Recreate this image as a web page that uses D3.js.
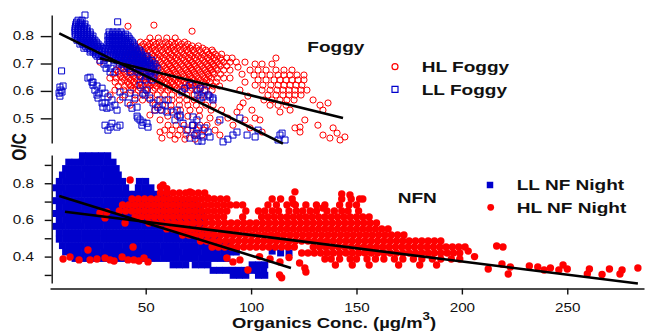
<!DOCTYPE html>
<html>
<head>
<meta charset="utf-8">
<script src="https://cdn.jsdelivr.net/npm/d3@7"></script>
<style>
  html, body { margin: 0; padding: 0; background: #fff; }
  svg { display: block; }
  text { font-family: "Liberation Sans", Arial, Helvetica, sans-serif; fill: #111; }
</style>
</head>
<body>
<svg id="chart" width="650" height="332"></svg>
<script>
// ---------------- data ----------------
const xTicks = [50, 100, 150, 200, 250];
const topYTicks = [0.5, 0.6, 0.7, 0.8];
const bottomYTicks = [0.3, 0.4, 0.5, 0.6, 0.7, 0.8, 0.9];
const bottomYLabels = [0.4, 0.6, 0.8];

// HL Foggy (open circles): rows of [O/C, [organics...]] plus loose points
const hlFoggyRows = [
  [0.793, [52, 56, 60, 64]],
  [0.778, [47.5, 50.5, 53.5, 56.5, 59.5, 62.5, 65.5, 68.5]],
  [0.771, [49, 52, 55, 58, 61, 64, 67, 70]],
  [0.764, [45, 48, 51, 54, 57, 60, 63, 66, 69, 72, 75]],
  [0.756, [44, 47, 50, 53, 56, 59, 62, 65, 68, 71, 74, 77]],
  [0.749, [42.5, 45.5, 48.5, 51.5, 54.5, 57.5, 60.5, 63.5, 66.5, 69.5, 72.5, 75.5, 78.5, 81.5]],
  [0.742, [43, 46, 49, 52, 55, 58, 61, 64, 67, 70, 73, 76, 79, 82]],
  [0.734, [41, 44, 47, 50, 53, 56, 59, 62, 65, 68, 71, 74, 77, 80, 83, 86]],
  [0.727, [42, 45, 48, 51, 54, 57, 60, 63, 66, 69, 72, 75, 78, 81, 84]],
  [0.72, [40.5, 43.5, 46.5, 49.5, 52.5, 55.5, 58.5, 61.5, 64.5, 67.5, 70.5, 73.5, 76.5, 79.5, 82.5, 85.5, 88.5, 91]],
  [0.712, [41, 44, 47, 50, 53, 56, 59, 62, 65, 68, 71, 74, 77, 80, 83, 86]],
  [0.705, [39, 42, 45, 48, 51, 54, 57, 60, 63, 66, 69, 72, 75, 78, 81, 84, 87, 90, 93]],
  [0.698, [40, 43, 46, 49, 52, 55, 58, 61, 64, 67, 70, 73, 76, 79, 82, 85]],
  [0.691, [37.5, 40.5, 43.5, 46.5, 49.5, 52.5, 55.5, 58.5, 61.5, 64.5, 67.5, 70.5, 73.5, 76.5, 79.5, 82.5, 85.5, 88.5]],
  [0.683, [38.5, 41.5, 44.5, 47.5, 50.5, 53.5, 56.5, 59.5, 62.5, 65.5, 68.5, 71.5, 74.5, 77.5, 80.5, 83.5]],
  [0.676, [36, 39, 42, 45, 48, 51, 54, 57, 60, 63, 66, 69, 72, 75, 78, 81, 84, 87, 90]],
  [0.669, [37, 40, 43, 46, 49, 52, 55, 58, 61, 64, 67, 70, 73, 76, 79, 82]],
  [0.661, [34.5, 37.5, 40.5, 43.5, 46.5, 49.5, 52.5, 55.5, 58.5, 61.5, 64.5, 67.5, 70.5, 73.5, 76.5, 79.5, 82.5, 85.5]],
  [0.654, [38, 41, 44, 47, 50, 53, 56, 59, 62, 65, 68, 71, 74, 77, 80]],
  [0.647, [33, 36, 39, 42, 45, 48, 51, 54, 57, 60, 63, 66, 69, 72, 75, 78, 81, 84, 87, 90]],
  [0.640, [40, 43, 46, 49, 52, 55, 58, 61, 64, 67, 70, 73, 76, 79]],
  [0.632, [35.5, 38.5, 41.5, 44.5, 47.5, 50.5, 53.5, 56.5, 59.5, 62.5, 65.5, 68.5, 71.5, 74.5, 77.5, 80.5, 83.5]],
  [0.625, [42, 45, 48, 51, 54, 57, 60, 63, 66, 69, 72, 75, 78]],
  [0.618, [37, 40, 43, 46, 49, 52, 55, 58, 61, 64, 67, 70, 73, 76, 79, 82, 85]],
  [0.61, [44, 47.5, 51, 54.5, 58, 61.5, 65, 68.5, 72, 76]],
  [0.603, [39.5, 43, 46.5, 50, 53.5, 57, 60.5, 64, 67.5, 71, 74.5, 78, 81.5]],
  [0.585, [45, 48.5, 52, 55.5, 59, 62.5, 66, 69.5, 73, 76.5, 80]],
  [0.567, [48.5, 52, 55.5, 59, 62.5, 66, 69.5, 73, 76.5]],
  [0.548, [54.5, 58, 62, 66, 70, 74, 78.5, 82]],
  [0.53, [57, 62, 66.5, 71, 75.5, 81, 86]],
  [0.508, [60.5, 65, 70, 75.5]],
  [0.475, [60.6, 64.4, 68.2, 72, 75.8, 79.1]],
  [0.457, [59, 62.5, 66.3, 70, 74, 77.7]],
  [0.439, [61.5, 65.3, 69.1, 72.9, 76.7]],
  [0.424, [63.9, 68.6, 73.4]],
  [0.698, [101.9, 105.2, 109.9]],
  [0.676, [99.5, 103.3, 107.1, 111.8, 115.6, 119.4]],
  [0.658, [101.4, 105.2, 109, 112.8, 115.6, 118.5, 121.8, 125.1]],
  [0.640, [103.3, 107.1, 110.9, 113.7, 116.6, 119.4, 122.3, 125.1]],
  [0.621, [101.9, 105.6, 109.4, 112.8, 115.6, 118.5, 121.3, 124.1]],
  [0.603, [105.2, 109, 112.3, 115.1, 118, 120.8, 123.7, 126.5]],
  [0.585, [108, 111.8, 115.1, 118, 120.8, 123.7]],
  [0.567, [106.1, 109.9, 113.7, 117, 120.4]],
  [0.548, [109, 112.8, 116.6]]
];
const hlFoggyPts = [
  [129.4, 0.567], [132.7, 0.548], [136.5, 0.556], [134.1, 0.53], [138.9, 0.465], [134.1, 0.439],
  [137.4, 0.428], [142.2, 0.421], [144.5, 0.432], [140.8, 0.446], [123.2, 0.468], [120.8, 0.465],
  [123.2, 0.45], [131.7, 0.475], [111.8, 0.72], [72, 0.818], [53.9, 0.84], [41.6, 0.836],
  [97.1, 0.705], [93.8, 0.687], [95.7, 0.661], [97.1, 0.632], [94.7, 0.603], [98.5, 0.581],
  [96.2, 0.556], [100.4, 0.53], [93.3, 0.523], [101.9, 0.501], [97.1, 0.494], [104.2, 0.494],
  [99.5, 0.465], [105.2, 0.45], [94.7, 0.541], [91.4, 0.475], [89, 0.501], [84.3, 0.486],
  [80.5, 0.501], [30.7, 0.72], [28.3, 0.705], [32.1, 0.731], [35.4, 0.603], [33.1, 0.585],
  [37.8, 0.567], [40.2, 0.585], [42.6, 0.548], [44.9, 0.567], [52, 0.512], [54.4, 0.53],
  [56.8, 0.494], [82.9, 0.457], [85.2, 0.439], [56.8, 0.45], [57.7, 0.428], [125.5, 0.494],
  [118.5, 0.53], [113.7, 0.523]
];

// LL Foggy (open squares)
const llFoggyRows = [
  [0.858, [17.9, 19.8]],
  [0.851, [17.2, 19.1]],
  [0.844, [16.9, 18.4, 19.8, 21.2]],
  [0.836, [16.7, 18.1, 19.6, 21]],
  [0.829, [16.5, 17.9, 19.3, 20.7, 22.2]],
  [0.822, [16.5, 17.9, 19.3, 20.7, 22]],
  [0.815, [16.5, 17.9, 19.3, 20.7, 22.2, 23.6, 32.6, 34.5, 36.4, 38.3]],
  [0.807, [16.8, 18.2, 19.6, 21, 22.5, 23.9, 32.8, 34.2, 35.7, 37.1, 38.6, 40.5]],
  [0.80, [16.5, 17.9, 19.3, 20.7, 22.2, 23.6, 25, 32.1, 33.5, 35, 36.4, 37.8, 39.7, 41.6]],
  [0.792, [17.6, 19, 20.4, 21.8, 23.3, 24.7, 32.8, 34.2, 35.7, 37.1, 38.6, 40.4, 42.2]],
  [0.785, [17.4, 18.8, 20.2, 21.7, 23.1, 24.5, 25.9, 32.1, 33.5, 35, 36.4, 37.8, 39.2, 41.1, 43]],
  [0.778, [19.5, 20.9, 22.4, 23.8, 25.2, 26.6, 32.8, 34.2, 35.7, 37.1, 38.6, 40, 41.9, 43.7]],
  [0.771, [18.8, 20.2, 21.7, 23.1, 24.5, 25.9, 27.4, 32.1, 33.5, 35, 36.4, 37.8, 39.2, 40.7, 42.6, 44.4]],
  [0.763, [21.4, 22.9, 24.3, 25.7, 27.1, 28.5, 32.8, 34.2, 35.7, 37.1, 38.6, 40, 41.4, 42.8, 44.6]],
  [0.756, [20.7, 22.2, 23.6, 25, 26.4, 27.8, 29.3, 30.7, 32.1, 33.5, 35, 36.4, 37.8, 39.2, 40.7, 42.1, 43.5, 45.4]],
  [0.749, [23.9, 25.3, 26.7, 28.1, 29.5, 33.8, 35.2, 36.6, 38, 39.5, 40.9, 42.3, 43.7, 45.4, 47]],
  [0.742, [23.6, 25, 26.4, 27.8, 29.3, 30.7, 33.1, 34.5, 35.9, 37.3, 38.8, 40.2, 41.6, 43, 44.4, 45.9, 47.8]],
  [0.734, [26.2, 27.6, 29, 30.4, 34.7, 36.2, 37.6, 39, 40.4, 41.9, 43.3, 44.7, 46.1, 47.8]],
  [0.727, [26.9, 28.3, 29.7, 31.2, 34, 35.4, 36.9, 38.3, 39.7, 41.1, 42.6, 44, 45.4, 46.8, 48.7, 50.6]],
  [0.72, [35.7, 37.1, 38.5, 40, 41.4, 42.8, 44.2, 45.6, 47, 48.5, 50.2]],
  [0.712, [28.3, 30.2, 35, 36.4, 37.8, 39.2, 40.7, 42.1, 43.5, 44.9, 46.3, 47.8, 49.2, 51.1, 53]],
  [0.705, [37.6, 39.5, 41.6, 43.5, 45.4, 47, 48.5, 50, 51.8]],
  [0.698, [30.2, 32.1, 36.9, 38.8, 40.7, 42.6, 44.4, 46.3, 47.8, 49.2, 50.6, 52.5, 54.4]],
  [0.69, [41.2, 44, 46.8, 48.2, 50, 52, 53.8]],
  [0.683, [31.2, 33.5, 39.7, 42.6, 45.4, 47.3, 49.2, 51.1, 53, 55.4]],
  [0.669, [33.1, 35.4, 42.6, 46.3, 48.7, 50.6, 52.5, 54.4]],
  [0.654, [47.3, 50.1, 52, 53.9]],
  [0.640, [49.7, 53]]
];
const llFoggyPts = [
  [21.2, 0.877], [36.7, 0.852],
  [23.6, 0.65], [24.5, 0.632], [25, 0.621], [25.9, 0.603], [26.9, 0.585], [27.4, 0.574],
  [29.3, 0.556], [29.7, 0.541], [31.6, 0.537], [22.6, 0.647], [25, 0.632], [26.9, 0.618], [27.8, 0.592],
  [29.3, 0.61], [30.7, 0.592], [32.1, 0.578], [34, 0.567], [35.4, 0.548], [33.1, 0.541], [36.4, 0.53], [30.7, 0.556],
  [37.8, 0.596], [39.2, 0.578], [41.6, 0.556], [43.5, 0.537], [45.9, 0.541], [44.9, 0.574], [42.6, 0.592],
  [47.3, 0.621], [50.6, 0.603], [52, 0.574], [53.5, 0.556], [55.8, 0.541], [57.7, 0.53], [60.1, 0.523],
  [59.2, 0.548], [54.4, 0.53], [48.7, 0.592], [49.7, 0.585], [56.8, 0.567], [60.6, 0.567],
  [30.7, 0.475], [33.1, 0.468], [34, 0.482], [36.4, 0.468], [37.8, 0.475], [32.1, 0.457],
  [45.9, 0.508], [47.3, 0.494], [48.7, 0.486], [50.6, 0.482], [51.1, 0.468], [48.2, 0.475], [46.3, 0.501],
  [10.1, 0.673], [9.3, 0.614], [9.8, 0.603], [8.9, 0.592], [10.3, 0.596], [9.3, 0.581], [10.8, 0.618],
  [64.9, 0.53], [66.3, 0.505], [67.7, 0.482], [63.9, 0.494], [69.6, 0.457], [72.4, 0.475], [74.3, 0.446],
  [71, 0.428], [74.8, 0.417], [74.3, 0.603], [74.8, 0.585], [75.8, 0.61], [78.1, 0.603], [79.6, 0.585],
  [81.9, 0.574], [77.2, 0.578], [80.5, 0.578], [81.9, 0.567], [75.8, 0.574],
  [72.4, 0.505], [74.3, 0.494], [72.4, 0.475], [74.8, 0.465], [78.1, 0.465], [79.6, 0.45], [73.4, 0.439],
  [77.2, 0.432], [80.5, 0.432], [76.7, 0.417], [85.2, 0.494], [94.7, 0.501], [103.3, 0.457], [101.9, 0.432],
  [98.1, 0.439], [91.4, 0.439], [89, 0.424], [113.7, 0.439], [116.1, 0.421], [112.8, 0.421], [114.7, 0.446],
  [86.7, 0.414], [93.3, 0.45], [63, 0.523], [66.3, 0.512], [68.6, 0.61], [71, 0.621], [67.2, 0.596]
];

// LL NF Night (filled squares)
const llNightRows = [
  [0.95, [20, 23, 26, 29, 32]],
  [0.915, [13.5, 16.5, 19.5, 22.5, 25.5, 28.5, 31.5, 34.5]],
  [0.88, [12, 15, 18, 21, 24, 27, 30, 33, 36]],
  [0.845, [10.5, 13.5, 16.5, 19.5, 22.5, 25.5, 28.5, 31.5, 34.5, 37]],
  [0.81, [9, 12, 15, 18, 21, 24, 27, 30, 33, 36, 39, 47, 50]],
  [0.775, [7.5, 10.5, 13.5, 16.5, 19.5, 22.5, 25.5, 28.5, 31.5, 34.5, 37.5, 40.5, 46.5, 49.5, 52.5]],
  [0.74, [9, 12, 15, 18, 21, 24, 27, 30, 33, 36, 39, 42, 45, 48, 51, 54, 57, 60]],
  [0.705, [7.5, 10.5, 13.5, 16.5, 19.5, 22.5, 25.5, 28.5, 31.5, 34.5, 37.5, 40.5, 43.5, 46.5, 49.5, 52.5, 55.5, 58.5, 61.5, 64.5, 67.5, 70.5, 73.5]],
  [0.67, [9, 12, 15, 18, 21, 24, 27, 30, 33, 36, 39, 42, 45, 48, 51, 54, 57, 60, 63, 66, 69, 72, 75]],
  [0.635, [7.5, 10.5, 13.5, 16.5, 19.5, 22.5, 25.5, 28.5, 31.5, 34.5, 37.5, 40.5, 43.5, 46.5, 49.5, 52.5, 55.5, 58.5, 61.5, 64.5, 67.5, 70.5, 73.5, 76.5]],
  [0.60, [9, 12, 15, 18, 21, 24, 27, 30, 33, 36, 39, 42, 45, 48, 51, 54, 57, 60, 63, 66, 69, 72, 75, 78]],
  [0.565, [7.5, 10.5, 13.5, 16.5, 19.5, 22.5, 25.5, 28.5, 31.5, 34.5, 37.5, 40.5, 43.5, 46.5, 49.5, 52.5, 55.5, 58.5, 61.5, 64.5, 67.5, 70.5, 73.5, 76.5]],
  [0.53, [9, 12, 15, 18, 21, 24, 27, 30, 33, 36, 39, 42, 45, 48, 51, 54, 57, 60, 63, 66, 69, 72, 75, 78, 81]],
  [0.495, [9, 12, 15, 18, 21, 24, 27, 30, 33, 36, 39, 42, 45, 48, 51, 54, 57, 60, 63, 66, 69, 72, 75, 78, 81, 84]],
  [0.46, [10.5, 13.5, 16.5, 19.5, 22.5, 25.5, 28.5, 31.5, 34.5, 37.5, 40.5, 43.5, 46.5, 49.5, 52.5, 55.5, 58.5, 61.5, 64.5, 67.5, 70.5, 73.5, 76.5, 79.5, 82.5, 85.5, 88.5]],
  [0.425, [12, 15, 18, 21, 24, 27, 30, 33, 36, 39, 42, 45, 48, 51, 54, 57, 60, 63, 66, 69, 72, 75, 78, 81, 84, 87, 90, 93]],
  [0.39, [16.5, 19.5, 22.5, 25.5, 28.5, 31.5, 34.5, 37.5, 40.5, 43.5, 46.5, 49.5, 52.5, 55.5, 58.5, 61.5, 64.5, 67.5, 70.5, 73.5, 76.5, 79.5, 82.5, 85.5, 88.5]],
  [0.355, [63, 66, 69, 73.5, 76.5, 79.5, 100.5, 103.5, 106.5]],
  [0.325, [82, 85, 88, 91, 94, 97, 100, 103, 106]],
  [0.298, [91.5, 94.5, 97.5, 103.5, 106.5]]
];
const llNightPts = [[110, 0.43], [114, 0.42], [118, 0.42]];

// HL NF Night (filled circles)
const hlNightRows = [
  [0.747, [57, 60, 63, 66, 69, 72, 75, 78]],
  [0.714, [43.5, 46.5, 49.5, 52.5, 55.5, 58.5, 61.5, 64.5, 67.5, 70.5, 73.5, 76.5, 79.5, 82.5, 85.5, 88.5, 110, 114, 119.5, 143, 147.5, 151.5]],
  [0.682, [39, 42, 45, 48, 51, 54, 57, 60, 63, 66, 69, 72, 75, 78, 81, 84, 87, 90, 93, 96, 108, 112, 117, 121, 126, 131, 135, 142, 146.5, 150]],
  [0.649, [37.5, 40.5, 43.5, 46.5, 49.5, 52.5, 55.5, 58.5, 61.5, 64.5, 67.5, 70.5, 73.5, 76.5, 79.5, 82.5, 85.5, 88.5, 97.5, 103.5, 106.5, 110, 113, 118, 121.5, 124.5, 128, 131, 136, 139.5, 143, 146, 151]],
  [0.616, [45, 48, 51, 54, 57, 60, 63, 66, 69, 72, 75, 78, 81, 84, 87, 96, 105, 108, 111, 114, 117, 120, 123, 126, 129, 132, 135, 138, 141, 144, 147, 150, 153, 156]],
  [0.583, [51.5, 54.5, 57.5, 60.5, 63.5, 66.5, 69.5, 72.5, 75.5, 78.5, 81.5, 84.5, 87.5, 90.5, 93.5, 96.5, 99.5, 102.5, 105.5, 108.5, 111.5, 114.5, 117.5, 120.5, 123.5, 126.5, 129.5, 132.5, 135.5, 138.5, 141.5, 144.5, 147.5, 150.5, 153.5, 156.5, 159.5]],
  [0.551, [60, 63, 66, 69, 72, 75, 78, 81, 84, 87, 90, 93, 96, 99, 102, 105, 108, 111, 114, 117, 120, 123, 126, 129, 132, 135, 138, 141, 144, 147, 150, 153, 156, 159, 162, 165]],
  [0.518, [67.5, 70.5, 73.5, 76.5, 79.5, 82.5, 85.5, 88.5, 91.5, 94.5, 97.5, 100.5, 103.5, 106.5, 109.5, 112.5, 115.5, 118.5, 121.5, 124.5, 127.5, 130.5, 133.5, 136.5, 139.5, 142.5, 145.5, 148.5, 151.5, 154.5, 157.5, 160.5, 163.5, 166.5, 169.5, 172.5]],
  [0.485, [76, 79, 82, 85, 88, 91, 94, 97, 100, 103, 106, 109, 112, 115, 118, 121, 124, 127, 130, 133, 136, 139, 142, 145, 148, 151, 154, 157, 160, 163, 166, 169, 172, 175, 178, 181, 184, 187, 190]],
  [0.452, [81.5, 84.5, 87.5, 90.5, 93.5, 96.5, 99.5, 102.5, 105.5, 108.5, 111.5, 114.5, 117.5, 120.5, 129.5, 132.5, 135.5, 138.5, 141.5, 144.5, 147.5, 150.5, 153.5, 156.5, 159.5, 162.5, 165.5, 168.5, 171.5, 174.5, 177.5, 180.5, 183.5, 186.5, 189.5, 192.5, 195.5, 198.5, 201.5]],
  [0.42, [124, 127, 130, 133, 136, 139, 142, 145, 148, 151, 154, 157, 160, 163, 166, 169, 172, 175, 178, 181, 184, 187, 190, 193, 196, 199]],
  [0.387, [135, 138, 142, 147, 150, 155, 159, 163, 168, 172, 177, 181, 186, 190, 195, 199]],
  [0.354, [140, 148, 156, 170, 180, 188]]
];
const hlNightPts = [
  [57, 0.78], [60, 0.77], [58.2, 0.791], [42.6, 0.818], [71, 0.753], [79.6, 0.72],
  [10.8, 0.387], [14.1, 0.398], [18.4, 0.382], [22.6, 0.436], [23.6, 0.382], [26.9, 0.387],
  [30.7, 0.392], [33.1, 0.382], [35, 0.376], [38.8, 0.398], [41.6, 0.382], [44, 0.452],
  [44.4, 0.382], [46.8, 0.376], [49.2, 0.392], [51.1, 0.371],
  [28.3, 0.638], [30.7, 0.611], [31.6, 0.643], [40.2, 0.583],
  [88.5, 0.392], [91.4, 0.371], [94.7, 0.382], [98.5, 0.327], [109, 0.387], [113.7, 0.371],
  [113.5, 0.30], [114.5, 0.285], [126, 0.316], [125.5, 0.338], [123, 0.365], [118, 0.395], [104, 0.40],
  [146.9, 0.736], [153, 0.714], [143, 0.742], [120.8, 0.753], [120, 0.69], [134, 0.665],
  [203, 0.43], [206, 0.40],
  [216.5, 0.458], [219.5, 0.452], [212.5, 0.332], [219, 0.36], [223, 0.343], [222, 0.305],
  [232, 0.349], [236, 0.343], [239, 0.327], [242, 0.338], [246, 0.327], [248, 0.354], [250, 0.332],
  [260.5, 0.332], [259.5, 0.305], [266.5, 0.303], [270, 0.332], [276, 0.327], [275, 0.305], [283.5, 0.338]
];

// least-squares fit lines, [organics, O/C] end points
const fitLLFoggy = [[9, 0.81], [115.1, 0.408]];
const fitHLFoggy = [[28.3, 0.719], [143.6, 0.501]];
const fitLLNight = [[9, 0.731], [118.9, 0.338]];
const fitHLNight = [[11.7, 0.645], [283.5, 0.253]];

// ---------------- drawing ----------------
const RED = "#ff0000", BLUE = "#0000cc", INK = "#111";
const SX = 1.27; // horizontal stretch of all lettering
const svg = d3.select("#chart");

const expand = rows => rows.flatMap(([y, xs]) => xs.map(x => [x, y]));

const x = d3.scaleLinear().domain([4.6, 286.4]).range([50, 644]);
const yTop = d3.scaleLinear().domain([0.41, 0.877]).range([143, 15]);
const yBot = d3.scaleLinear().domain([0.256, 0.954]).range([283, 155]);

function styleAxis(g, fontSize) {
  g.select(".domain").attr("stroke", INK).attr("stroke-width", 1.4);
  g.selectAll(".tick line").attr("stroke", INK).attr("stroke-width", 1.4);
  g.selectAll(".tick text")
    .attr("font-size", fontSize)
    .attr("fill", INK)
    .attr("font-family", "Liberation Sans, Arial, sans-serif")
    .attr("transform", `scale(${SX},1)`);
}

// ---- top panel: Foggy ----
const topG = svg.append("g");
const topAxis = topG.append("g").attr("transform", "translate(51.7,0)")
  .call(d3.axisLeft(yTop).tickValues(topYTicks).tickSize(11).tickSizeOuter(0)
    .tickPadding(3).tickFormat(d3.format(".1f")));
styleAxis(topAxis, 12);

const squarePath = (s) => `M${-s/2},${-s/2}h${s}v${s}h${-s}Z`;

topG.append("g").selectAll("circle")
  .data(expand(hlFoggyRows).concat(hlFoggyPts))
  .join("circle")
  .attr("cx", d => x(d[0])).attr("cy", d => yTop(d[1])).attr("r", 3.1)
  .attr("fill", "none").attr("stroke", RED).attr("stroke-width", 1);

topG.append("g").selectAll("path")
  .data(expand(llFoggyRows).concat(llFoggyPts))
  .join("path")
  .attr("transform", d => `translate(${x(d[0])},${yTop(d[1])})`)
  .attr("d", squarePath(6))
  .attr("fill", "none").attr("stroke", BLUE).attr("stroke-width", 1);

const lineTop = d3.line().x(d => x(d[0])).y(d => yTop(d[1]));
[fitLLFoggy, fitHLFoggy].forEach(f => {
  topG.append("path").attr("d", lineTop(f)).attr("stroke", "#000")
    .attr("stroke-width", 2.6).attr("fill", "none");
});

// ---- bottom panel: NF night ----
const botG = svg.append("g");
const botAxis = botG.append("g").attr("transform", "translate(51.7,0)")
  .call(d3.axisLeft(yBot).tickValues(bottomYTicks).tickSize(7).tickSizeOuter(0)
    .tickPadding(7)
    .tickFormat(d => bottomYLabels.some(v => Math.abs(v - d) < 1e-6) ? d.toFixed(1) : ""));
styleAxis(botAxis, 12);

const xAxis = botG.append("g").attr("transform", "translate(0,288.5)")
  .call(d3.axisBottom(x).tickValues(xTicks).tickSize(6).tickSizeOuter(0).tickPadding(9));
styleAxis(xAxis, 12);

botG.append("g").selectAll("path")
  .data(expand(llNightRows).concat(llNightPts))
  .join("path")
  .attr("transform", d => `translate(${x(d[0])},${yBot(d[1])})`)
  .attr("d", squarePath(7))
  .attr("fill", BLUE);

botG.append("g").selectAll("circle")
  .data(expand(hlNightRows).concat(hlNightPts))
  .join("circle")
  .attr("cx", d => x(d[0])).attr("cy", d => yBot(d[1])).attr("r", 3.7)
  .attr("fill", RED);

const lineBot = d3.line().x(d => x(d[0])).y(d => yBot(d[1]));
[fitLLNight, fitHLNight].forEach(f => {
  botG.append("path").attr("d", lineBot(f)).attr("stroke", "#000")
    .attr("stroke-width", 2.6).attr("fill", "none");
});

// ---- lettering ----
function word(x0, y0, str, size, anchor) {
  return svg.append("text")
    .attr("transform", `translate(${x0},${y0}) scale(${SX},1)`)
    .attr("font-size", size).attr("font-weight", "bold")
    .attr("text-anchor", anchor || "start").text(str);
}

word(307.3, 51.5, "Foggy", 15);
svg.append("circle").attr("cx", 395).attr("cy", 66.7).attr("r", 3)
  .attr("fill", "none").attr("stroke", RED).attr("stroke-width", 1.2);
word(421.7, 71.5, "HL Foggy", 15);
svg.append("path").attr("transform", "translate(395,89.3)").attr("d", squarePath(6))
  .attr("fill", "none").attr("stroke", BLUE).attr("stroke-width", 1.2);
word(421.7, 94.5, "LL Foggy", 15);

word(397.7, 202.7, "NFN", 15);
svg.append("path").attr("transform", "translate(490,185)").attr("d", squarePath(6.5))
  .attr("fill", BLUE);
word(516.7, 190, "LL NF Night", 15);
svg.append("circle").attr("cx", 490.7).attr("cy", 207.3).attr("r", 3.4).attr("fill", RED);
word(516.7, 213.3, "HL NF Night", 15);

// y title
svg.append("text")
  .attr("transform", `translate(26,147) scale(${SX},1) rotate(-90)`)
  .attr("font-size", 15.5).attr("font-weight", "bold").attr("text-anchor", "middle")
  .text("O/C");

// x title with superscript
const xt = svg.append("text")
  .attr("transform", `translate(334,328.3) scale(${SX},1)`)
  .attr("font-size", 14.5).attr("font-weight", "bold").attr("text-anchor", "middle");
xt.append("tspan").text("Organics Conc. (µg/m");
xt.append("tspan").attr("font-size", 10.5).attr("dy", -8.5).text("3");
xt.append("tspan").attr("dy", 8.5).text(")");
</script>
</body>
</html>
